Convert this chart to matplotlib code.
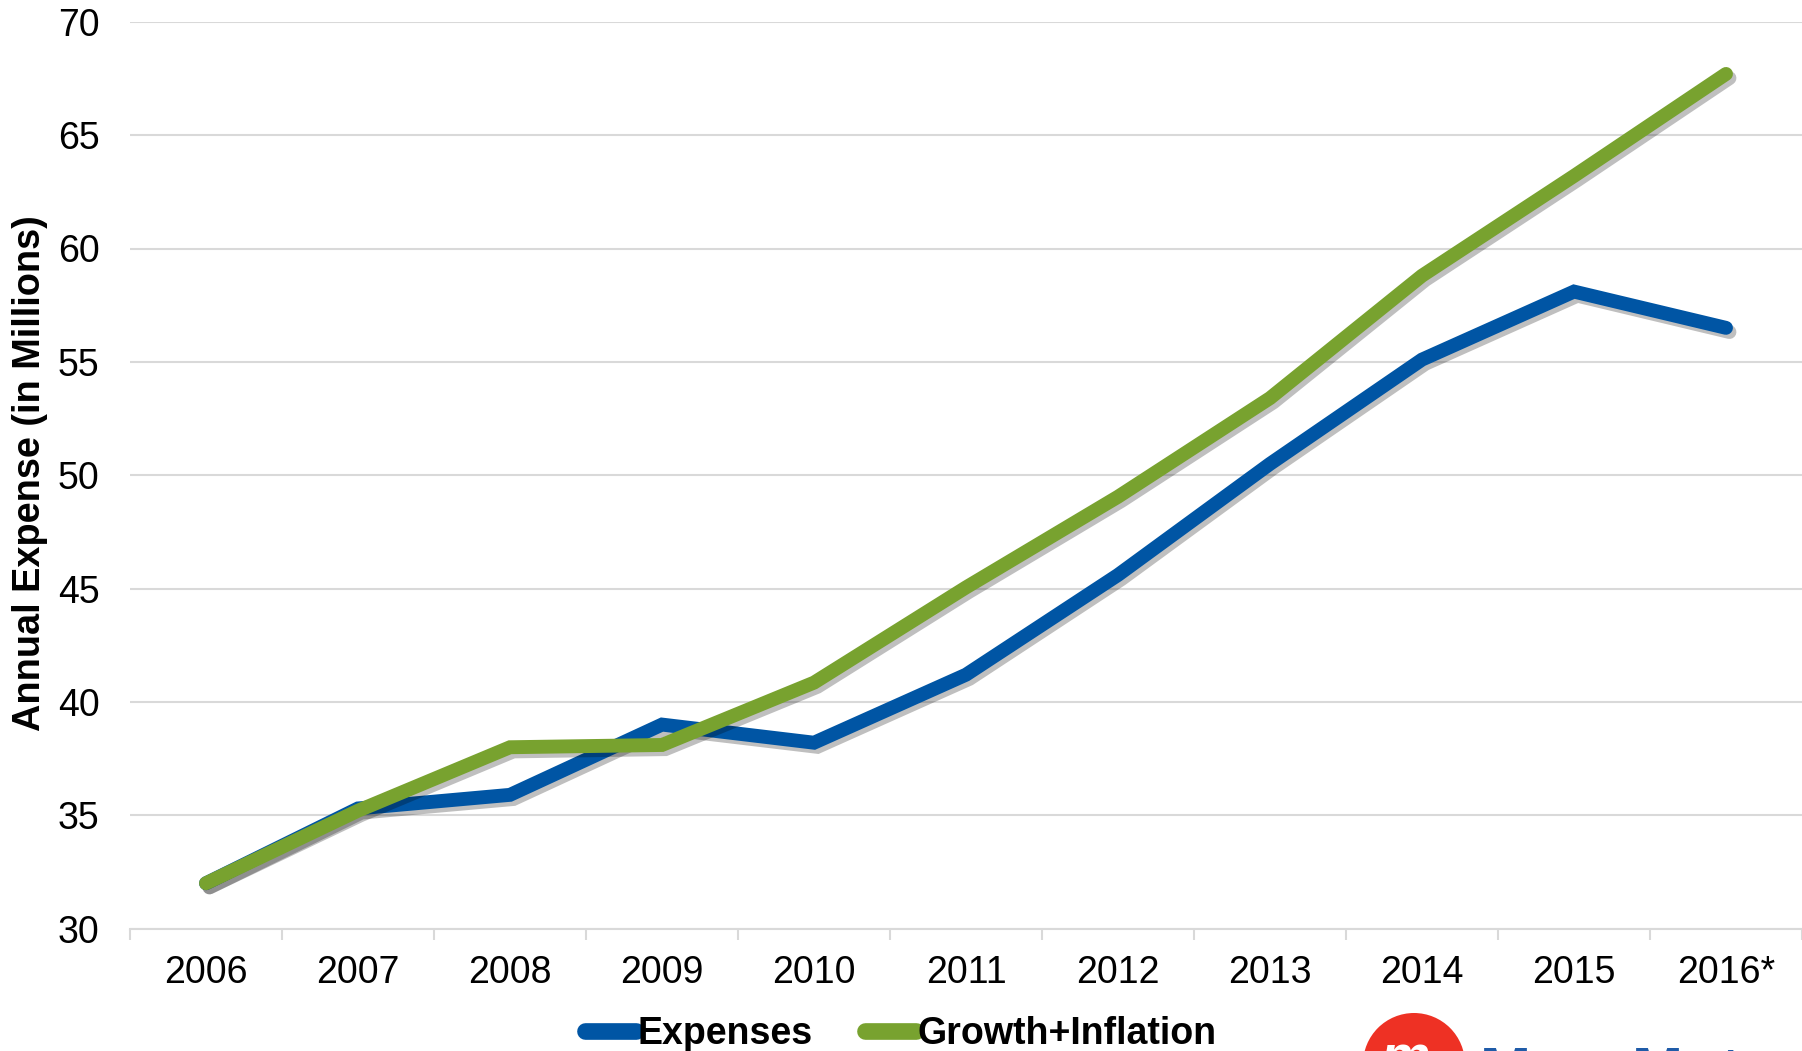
import numpy as np
import matplotlib.pyplot as plt
import matplotlib.patheffects as pe
from matplotlib.patches import Ellipse

plt.rcParams['font.family'] = ['Liberation Sans', 'DejaVu Sans']

years = ["2006", "2007", "2008", "2009", "2010", "2011", "2012", "2013", "2014", "2015", "2016*"]
expenses = [32.0, 35.3, 35.9, 39.0, 38.2, 41.2, 45.6, 50.5, 55.1, 58.1, 56.5]
growth_inflation = [32.0, 35.2, 38.0, 38.1, 40.85, 45.05, 49.05, 53.4, 58.8, 63.2, 67.7]

blue = "#0055A4"
green = "#78A22F"
grid_grey = "#D9D9D9"

W, H = 1802, 1051
fig = plt.figure(figsize=(W / 100, H / 100), dpi=100)
ax = fig.add_axes([130 / W, 1 - 928.6 / H, 1 - 130 / W, (928.6 - 21.8) / H])

x = np.arange(len(years))
shadow = [pe.SimpleLineShadow(offset=(2.5, -3), shadow_color="black", alpha=0.25), pe.Normal()]
ax.plot(x, expenses, color=blue, lw=10, solid_capstyle="round", solid_joinstyle="miter",
        label="Expenses", path_effects=shadow, zorder=3)
ax.plot(x, growth_inflation, color=green, lw=10, solid_capstyle="round", solid_joinstyle="miter",
        label="Growth+Inflation", path_effects=shadow, zorder=4)

ax.set_xlim(-0.5, len(years) - 0.5)
ax.set_ylim(30, 70)
ax.set_yticks(np.arange(30, 71, 5))
ax.yaxis.grid(True, color=grid_grey, lw=1.5)
ax.set_axisbelow(True)

# category labels between the boundary tick marks
ax.set_xticks(x)
ax.set_xticklabels(years)
ax.set_xticks(np.arange(-0.5, len(years)), minor=True)
ax.tick_params(axis="x", which="major", length=0, pad=19, labelsize=27)
ax.tick_params(axis="x", which="minor", length=8, width=1.5, color=grid_grey)
ax.tick_params(axis="y", length=0, pad=22, labelsize=27)

for s in ["top", "right", "left"]:
    ax.spines[s].set_visible(False)
ax.spines["bottom"].set_color(grid_grey)
ax.spines["bottom"].set_linewidth(1.5)

fig.text(30 / W, 1 - 473 / H, "Annual Expense (in Millions)", rotation=90,
         ha="center", va="center", fontsize=27.3, fontweight="bold")

leg = fig.legend(loc="center", bbox_to_anchor=(0.5, 1 - 1034 / H), ncol=2, frameon=False,
                 handlelength=1.35, handletextpad=0.05, columnspacing=1.4,
                 prop={"size": 27, "weight": "bold"})
for h in leg.legend_handles:
    h.set_linewidth(12)
    h.set_solid_capstyle("round")
    h.set_path_effects([])

# logo at the bottom edge, partly cut off
fig.add_artist(Ellipse((1414 / W, 1 - 1064 / H), 102 / W, 102 / H,
                       transform=fig.transFigure, color="#EE3124", lw=0))
fig.text(1405 / W, 1 - 1060 / H, "m", color="white", fontsize=40, fontweight="bold",
         style="italic", ha="center", va="center")
fig.text(1480 / W, 1 - 1045 / H, "MassMutual", color="#1F5BA8", fontsize=44,
         fontweight="bold", ha="left", va="top")

fig.savefig("out.png", dpi=100)
